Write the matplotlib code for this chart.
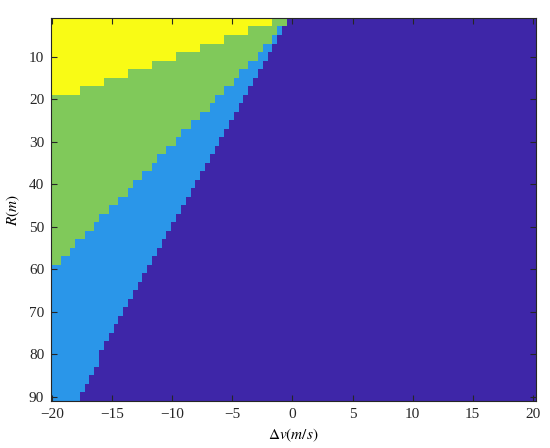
import numpy as np
import matplotlib
matplotlib.use("Agg")
import matplotlib.pyplot as plt
from matplotlib.colors import ListedColormap

# Grid: Δv columns (edges) and R rows (edges)
dv_left, dv_step, n_cols = -20.1, 0.4, 101
r_top, r_step, n_rows = 1.0, 2.0, 45

# Per-row boundaries (Δv where the next class begins)
# yellow (3) -> green (2)
yellow_end = [-1.7, -3.7, -5.7, -7.7, -9.7, -11.7, -13.7, -15.7, -17.7] + [-20.1] * 36
# green (2) -> light blue (1)
green_end = [-0.5, -1.3, -1.7, -2.5, -2.9, -3.7, -4.5, -4.9, -5.7, -6.5,
             -6.9, -7.7, -8.5, -9.3, -9.7, -10.5, -11.3, -11.7, -12.5, -13.3,
             -13.7, -14.5, -15.3, -16.1, -16.5, -17.3, -18.1, -18.5, -19.3, -20.1,
             -20.1, -20.1, -20.1, -20.1, -20.1, -20.1, -20.1, -20.1, -20.1, -20.1,
             -20.1, -20.1, -20.1, -20.1, -20.1]
# light blue (1) -> dark blue (0)
lightblue_end = [-0.5, -0.9, -1.3, -1.7, -2.1, -2.5, -2.9, -3.3, -3.7, -4.1,
                 -4.5, -4.9, -5.3, -5.7, -6.1, -6.5, -6.9, -7.3, -7.7, -8.1,
                 -8.5, -8.9, -9.3, -9.7, -10.1, -10.5, -10.9, -11.3, -11.7, -12.1,
                 -12.5, -12.9, -13.3, -13.7, -14.1, -14.5, -14.9, -15.3, -15.7, -16.1,
                 -16.1, -16.5, -16.9, -17.3, -17.7]

x_ticks = [-20, -15, -10, -5, 0, 5, 10, 15, 20]
y_ticks = [10, 20, 30, 40, 50, 60, 70, 80, 90]
class_colors = ['#3E26A8', '#2A96E9', '#80C95A', '#F9FB15']

dv_centers = dv_left + dv_step * (np.arange(n_cols) + 0.5)
Z = np.zeros((n_rows, n_cols))
for i in range(n_rows):
    z = np.zeros(n_cols)
    z[dv_centers < lightblue_end[i]] = 1
    z[dv_centers < green_end[i]] = 2
    z[dv_centers < yellow_end[i]] = 3
    Z[i] = z

plt.rcParams['font.family'] = ['Liberation Serif', 'DejaVu Serif']
plt.rcParams['mathtext.fontset'] = 'stix'

fig = plt.figure(figsize=(5.5, 4.48), dpi=100)
ax = fig.add_axes([0.093, 0.105, 0.882, 0.854])
extent = [dv_left, dv_left + dv_step * n_cols, r_top + r_step * n_rows, r_top]
ax.imshow(Z, cmap=ListedColormap(class_colors), vmin=-0.5, vmax=3.5,
          extent=extent, aspect='auto', interpolation='nearest', origin='upper')
ax.set_xlim(extent[0], extent[1])
ax.set_ylim(extent[2], extent[3])
ax.set_xticks(x_ticks)
ax.set_xticklabels(['\u2212%d' % -t if t < 0 else str(t) for t in x_ticks])
ax.set_yticks(y_ticks)
ax.tick_params(direction='in', length=4, width=0.8, labelsize=11, colors='#262626',
               top=True, right=True, pad=5)
for s in ax.spines.values():
    s.set_color('#262626')
    s.set_linewidth(0.8)
ax.set_xlabel(r'$\Delta v(m/s)$', fontsize=11, labelpad=4)
ax.set_ylabel(r'$R(m)$', fontsize=11, labelpad=5)

fig.savefig('out.png', dpi=100)
